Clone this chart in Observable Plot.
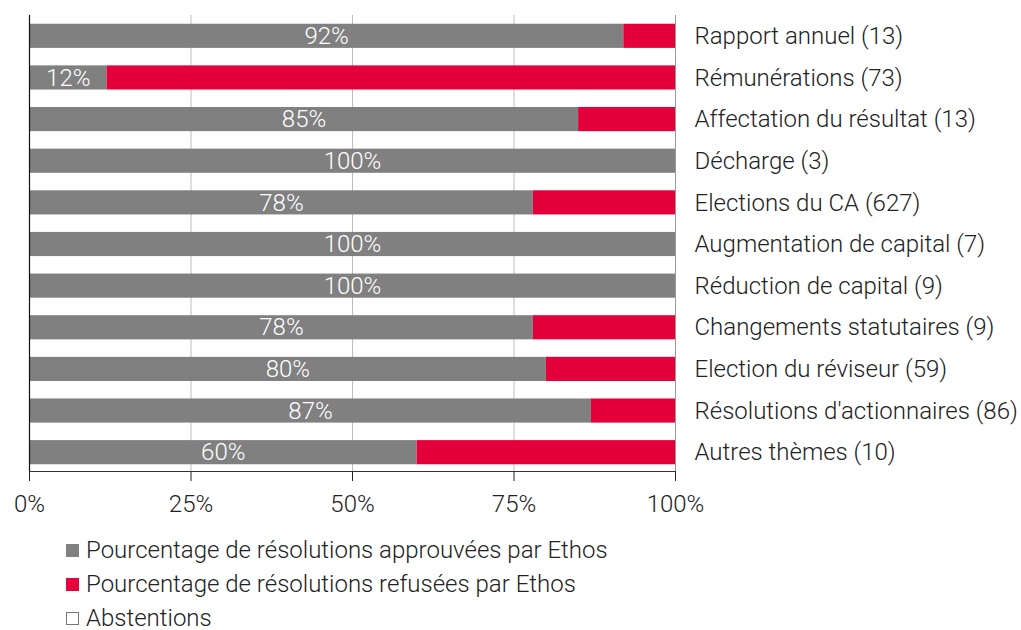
<!DOCTYPE html>
<html><head><meta charset="utf-8">
<script src="https://cdn.jsdelivr.net/npm/d3@7"></script>
<script src="https://cdn.jsdelivr.net/npm/@observablehq/plot@0.6"></script>
<style>
html,body{margin:0;background:#fff;font-family:Roboto,"Liberation Sans",sans-serif;color:#222;overflow:hidden;}
#legend{padding-left:66px;margin-top:13px;font-size:24px;font-weight:300;}
#legend .row{height:34px;line-height:28px;display:flex;align-items:center;}
#legend .sw{width:13px;height:13px;margin-right:7px;box-sizing:border-box;}
</style></head>
<body><div id="chart"></div><div id="legend"></div>
<script>
const categories = ["Rapport annuel (13)", "Rémunérations (73)", "Affectation du résultat (13)", "Décharge (3)", "Elections du CA (627)", "Augmentation de capital (7)", "Réduction de capital (9)", "Changements statutaires (9)", "Election du réviseur (59)", "Résolutions d'actionnaires (86)", "Autres thèmes (10)"];
const approved = [92, 12, 85, 100, 78, 100, 100, 78, 80, 87, 60];
const refused = [8, 88, 15, 0, 22, 0, 0, 22, 20, 13, 40];
const abstentions = [0, 0, 0, 0, 0, 0, 0, 0, 0, 0, 0];
const seriesNames = ["Pourcentage de résolutions approuvées par Ethos", "Pourcentage de résolutions refusées par Ethos", "Abstentions"];
const seriesColors = ["#808080", "#e4003a", "#ffffff"];
const xTicks = [0, 25, 50, 75, 100];

const rows = [];
categories.forEach((c, i) => {
  rows.push({cat: c, series: seriesNames[0], value: approved[i]});
  rows.push({cat: c, series: seriesNames[1], value: refused[i]});
  rows.push({cat: c, series: seriesNames[2], value: abstentions[i]});
});
const labels = categories.map((c, i) => ({cat: c, value: approved[i]}));

const chart = Plot.plot({
  width: 1021,
  height: 520,
  marginTop: 15,
  marginLeft: 29,
  marginRight: 346,
  marginBottom: 49,
  style: {fontFamily: "Roboto, 'Liberation Sans', sans-serif", fontSize: "24px", color: "#222", fontWeight: 300},
  x: {domain: [0, 100], ticks: xTicks, tickFormat: d => d + "%", tickSize: 10, tickPadding: 13, label: null},
  y: {domain: categories, range: [15, 473], round: false, paddingInner: 0.42, paddingOuter: 0.21, axis: null},
  color: {domain: seriesNames, range: seriesColors},
  marks: [
    Plot.ruleX(xTicks.slice(1, 4), {stroke: "#bdbdbd", strokeWidth: 1}),
    Plot.ruleX([100], {stroke: "#999", strokeWidth: 1}),
    Plot.barX(rows, Plot.stackX({x: "value", y: "cat", fill: "series", order: seriesNames})),
    Plot.text(labels, {x: d => d.value / 2, y: "cat", text: d => d.value + "%", fill: "white", fontSize: 24}),
    Plot.text(categories, {x: () => 100, y: d => d, text: d => d, dx: 19, textAnchor: "start", fill: "#222", fontSize: 24}),
    Plot.ruleX([0], {stroke: "#111", strokeWidth: 1.2}),
    Plot.frame({anchor: "bottom", stroke: "#333"})
  ]
});
document.getElementById("chart").appendChild(chart);

const legend = document.getElementById("legend");
seriesNames.forEach((s, i) => {
  const row = document.createElement("div");
  row.className = "row";
  const sw = document.createElement("span");
  sw.className = "sw";
  sw.style.background = seriesColors[i];
  if (i === 2) sw.style.border = "1px solid #777";
  row.appendChild(sw);
  const t = document.createElement("span");
  t.textContent = s;
  row.appendChild(t);
  legend.appendChild(row);
});
</script>
</body></html>
